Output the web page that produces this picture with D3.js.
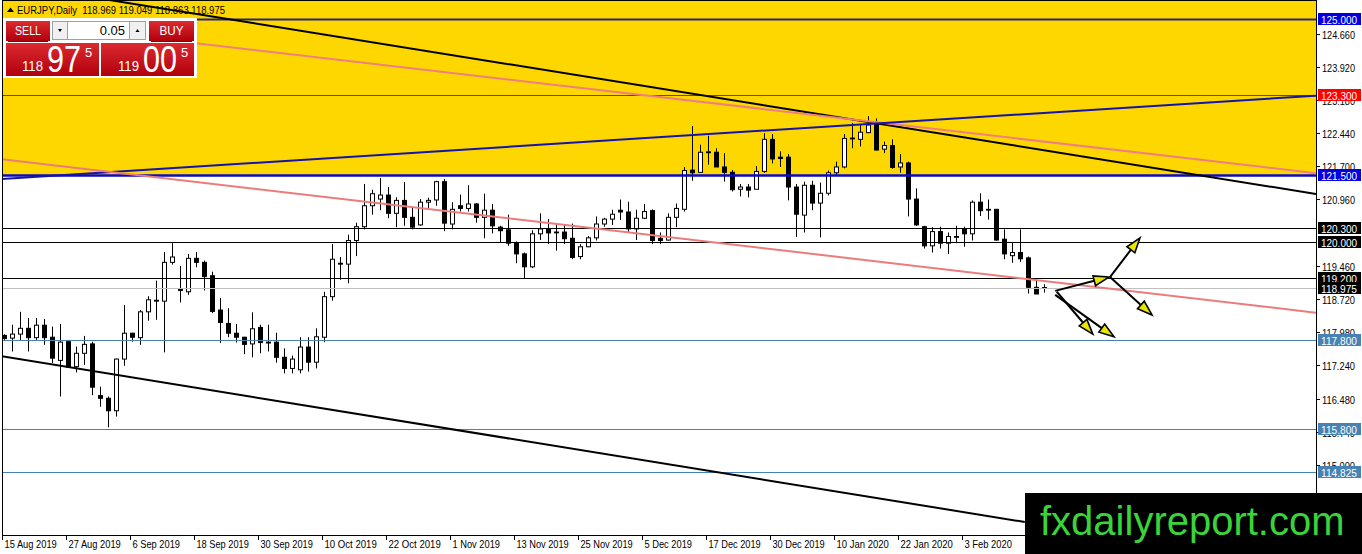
<!DOCTYPE html>
<html><head><meta charset="utf-8">
<script src="https://cdn.jsdelivr.net/npm/d3@7"></script>
<style>
html,body{margin:0;padding:0;background:#fff;overflow:hidden;}
svg{display:block;}
text{font-family:"Liberation Sans",Arial,sans-serif;}
</style></head><body>
<svg id="c" width="1362" height="554"></svg>
<script>
// ---------------- DATA ----------------
const symbolTitle = "EURJPY,Daily";
const lastQuote = ["118.969", "119.049", "118.863", "118.975"];

const openP = [117.90,117.84,117.93,118.06,117.85,118.13,117.86,117.34,117.76,117.20,
117.50,117.71,116.55,116.49,116.21,117.37,117.95,117.85,118.43,118.69,
118.67,119.54,118.93,118.88,119.63,119.54,119.24,118.47,118.17,117.95,
117.86,117.71,118.08,117.75,117.75,117.41,117.16,117.13,117.64,117.30,
117.86,118.77,119.52,119.50,120.03,120.34,120.81,120.96,121.05,120.64,
120.93,120.55,120.38,120.89,120.94,121.35,120.40,120.81,120.75,120.85,
120.55,120.71,120.33,120.27,119.98,119.73,119.44,120.18,120.29,120.22,
120.22,120.08,119.67,119.89,120.09,120.40,120.51,120.71,120.67,120.29,
120.53,120.70,120.08,120.04,120.55,120.73,121.61,121.56,122.00,122.01,
121.68,121.56,121.18,121.23,121.18,121.58,122.30,121.90,121.90,121.23,
120.60,121.27,120.87,121.09,121.55,121.68,122.33,122.30,122.45,122.66,
122.08,122.16,121.68,121.77,120.96,120.34,119.91,120.23,119.97,120.11,
120.29,120.18,120.89,120.73,120.73,120.06,119.69,119.76,119.64,118.98,118.969];
const highP = [117.93,118.14,118.43,118.29,118.29,118.27,118.10,118.16,117.80,117.65,
117.89,117.76,116.75,116.53,117.38,118.58,117.96,118.47,118.78,119.13,
119.77,119.97,119.46,119.73,119.77,119.58,119.33,118.74,118.51,118.16,
117.87,118.42,118.14,118.14,117.96,117.61,117.45,117.86,117.86,118.06,
118.88,119.95,119.66,120.16,120.43,121.30,121.17,121.43,121.23,121.00,
121.34,120.78,120.96,120.99,121.37,121.41,120.89,121.06,121.27,120.87,
121.08,120.85,120.36,120.61,120.01,119.76,120.26,120.64,120.51,120.38,
120.38,120.41,119.95,120.13,120.57,120.54,120.72,120.95,120.90,120.72,
120.85,120.73,120.21,120.64,120.86,121.68,122.60,122.18,122.38,122.10,
121.99,121.61,121.30,121.30,121.70,122.44,122.42,122.03,121.97,121.30,
121.35,121.37,121.33,121.60,121.80,122.42,122.67,122.62,122.82,122.77,
122.25,122.30,121.97,121.80,121.20,120.36,120.33,120.34,120.21,120.36,
120.34,120.93,121.09,120.95,120.73,120.28,119.98,120.28,119.67,119.13,119.049];
const lowP = [117.80,117.54,117.80,117.54,117.80,117.69,117.28,116.53,117.17,117.07,
117.24,116.56,116.30,115.84,116.08,117.22,117.76,117.69,118.23,118.25,
117.52,119.49,118.64,118.81,119.43,118.91,118.40,117.73,117.86,117.74,
117.48,117.41,117.50,117.54,117.29,117.05,117.05,117.05,117.09,117.16,
117.75,118.68,119.15,119.07,119.68,120.28,120.61,120.71,120.53,120.33,
120.36,120.28,120.36,120.75,120.81,120.24,120.28,120.68,120.68,120.43,
120.08,120.19,119.98,119.91,119.52,119.18,119.41,120.04,119.95,119.80,
119.95,119.61,119.61,119.88,120.03,120.34,120.38,120.49,120.20,120.04,
120.51,119.95,119.95,120.03,120.33,120.68,121.37,121.55,121.73,121.68,
121.35,121.13,121.02,121.00,121.18,121.55,121.76,121.68,120.93,120.11,
120.21,120.71,120.10,121.04,121.50,121.65,122.10,122.14,122.44,122.05,
121.99,121.64,121.55,120.57,120.36,119.85,119.76,119.85,119.73,119.97,
119.89,120.03,120.58,120.50,120.03,119.61,119.53,119.55,118.84,118.83,118.863];
const closeP = [117.83,117.93,118.06,117.85,118.13,117.85,117.39,117.75,117.19,117.50,
117.70,116.74,116.49,116.21,117.37,117.95,117.86,118.43,118.70,118.67,
119.54,119.66,118.91,119.63,119.54,119.22,118.44,118.19,117.95,117.86,
117.70,118.05,117.74,117.73,117.41,117.16,117.37,117.64,117.30,117.87,
118.77,119.61,119.50,120.03,120.34,120.81,121.08,121.05,120.64,120.93,
120.55,120.33,120.89,120.93,121.35,120.42,120.73,120.75,120.85,120.55,
120.71,120.36,120.25,119.97,119.73,119.44,120.18,120.29,120.20,120.21,
120.07,119.65,119.89,120.09,120.40,120.51,120.62,120.67,120.29,120.53,
120.68,120.03,120.03,120.55,120.75,121.60,121.55,122.01,122.02,121.68,
121.56,121.17,121.23,121.16,121.58,122.30,121.86,121.87,121.23,120.62,
121.27,120.87,121.09,121.55,121.68,122.32,122.31,122.46,122.62,122.06,
122.16,121.67,121.77,120.96,120.38,119.91,120.23,119.97,120.12,120.12,
120.18,120.89,120.70,120.72,120.04,119.73,119.76,119.62,118.98,118.83,118.975];

const dateLabels = ["15 Aug 2019","27 Aug 2019","6 Sep 2019","18 Sep 2019","30 Sep 2019",
"10 Oct 2019","22 Oct 2019","1 Nov 2019","13 Nov 2019","25 Nov 2019","5 Dec 2019",
"17 Dec 2019","30 Dec 2019","10 Jan 2020","22 Jan 2020","3 Feb 2020"];
const dateLabelBars = [0,8,16,24,32,40,48,56,64,72,80,88,96,104,112,120];

// visible price-scale labels (others are hidden under level tags / watermark)
const priceTicks = ["124.660","123.920","123.180","122.440","121.700","120.960",
"119.460","118.720","117.980","117.240","116.480","115.740","115.000"];

const levelPrices = [125.000, 123.300, 121.500, 120.300, 120.000, 119.200, 118.975, 117.800, 115.800, 114.825];
const levelKinds  = ["navy","red","blue","black","black","black","bid","steel","steel","steel"];

const zoneTop = 125.6, zoneBottom = 121.5;

const trendKinds = ["blackUp","pinkUp","blueRise","pinkLow","blackLow"];
const trendFrom = [[16.25,125.337],[23.75,124.462],[-0.5,121.410],[-0.5,121.859],[-0.5,117.439]];
const trendTo   = [[163.25,121.096],[163.25,121.556],[163.25,123.272],[163.25,118.426],[127.6,113.714]];

const arrowFrom = [[131.4,118.90],[138.25,119.21],[138.25,119.21],[131.6,118.88],[131.4,118.81]];
const arrowTo   = [[138.1,119.21],[142.0,120.09],[143.5,118.36],[136.1,117.93],[138.75,117.87]];

// ---------------- CHART ----------------
const svg = d3.select("#c");
const W = 1362, H = 554, plotL = 2, plotR = 1316, plotT = 0, plotB = 535;
const x = d3.scaleLinear().domain([0,130]).range([4,1044]);
const y = d3.scaleLinear().domain([125,115]).range([19,19+445.7]);

const defs = svg.append("defs");
defs.append("clipPath").attr("id","plotClip").append("rect")
  .attr("x",plotL).attr("y",plotT).attr("width",plotR-plotL).attr("height",plotB-plotT);
const g1 = defs.append("linearGradient").attr("id","redG").attr("x1",0).attr("y1",0).attr("x2",0).attr("y2",1);
g1.append("stop").attr("offset","0%").attr("stop-color","#dc2a30");
g1.append("stop").attr("offset","100%").attr("stop-color","#b0000c");

svg.append("rect").attr("width",W).attr("height",H).attr("fill","#fff");
const plot = svg.append("g").attr("clip-path","url(#plotClip)");

plot.append("rect").attr("x",plotL).attr("width",plotR-plotL)
  .attr("y",y(zoneTop)).attr("height",y(zoneBottom)-y(zoneTop)).attr("fill","#ffd700");

const bars = openP.map((o,i)=>({i,o,h:highP[i],l:lowP[i],c:closeP[i]}));
const cg = plot.append("g");
cg.selectAll("line.w").data(bars).enter().append("line")
  .attr("x1",d=>Math.round(x(d.i))+0.5).attr("x2",d=>Math.round(x(d.i))+0.5)
  .attr("y1",d=>y(d.h)).attr("y2",d=>y(d.l)).attr("stroke","#000").attr("stroke-width",1);
cg.selectAll("rect.b").data(bars).enter().append("rect")
  .attr("x",d=>Math.round(x(d.i))-1.5).attr("width",4)
  .attr("y",d=>y(Math.max(d.o,d.c)))
  .attr("height",d=>Math.max(0.8,Math.abs(y(d.o)-y(d.c))))
  .attr("fill",d=>d.c>=d.o?"#fff":"#000").attr("stroke","#000").attr("stroke-width",1);

const lvlStyle = {
  navy:{c:"#26266e",w:2}, red:{c:"#e01010",w:1.2}, blue:{c:"#0a0ac8",w:2.5},
  black:{c:"#000",w:1}, bid:{c:"#c0c0c0",w:1}, steel:{c:"#4682b4",w:1}
};
levelPrices.forEach((p,k)=>{
  const s = lvlStyle[levelKinds[k]];
  plot.append("line").attr("x1",plotL).attr("x2",plotR)
    .attr("y1",Math.round(y(p))+0.5).attr("y2",Math.round(y(p))+0.5)
    .attr("stroke",s.c).attr("stroke-width",s.w);
});

const trStyle = {
  blackUp:{c:"#000",w:2}, pinkUp:{c:"#f08080",w:2}, blueRise:{c:"#1414a8",w:2},
  pinkLow:{c:"#ec7c7c",w:2}, blackLow:{c:"#000",w:2}
};
trendKinds.forEach((k,n)=>{
  const [i1,p1] = trendFrom[n], [i2,p2] = trendTo[n];
  const slope = (p2-p1)/(i2-i1);
  const iA = x.invert(plotL-2), iB = (k==="blackLow") ? i2 : x.invert(plotR);
  plot.append("line")
    .attr("x1",x(iA)).attr("y1",y(p1+(iA-i1)*slope))
    .attr("x2",x(iB)).attr("y2",y(p1+(iB-i1)*slope))
    .attr("stroke",trStyle[k].c).attr("stroke-width",trStyle[k].w);
});

arrowFrom.forEach((a,n)=>{
  const b = arrowTo[n];
  const x1=x(a[0]), y1=y(a[1]), x2=x(b[0]), y2=y(b[1]);
  const ang = Math.atan2(y2-y1,x2-x1), L=15, Wd=5;
  plot.append("line").attr("x1",x1).attr("y1",y1).attr("x2",x2-Math.cos(ang)*L*0.6).attr("y2",y2-Math.sin(ang)*L*0.6)
    .attr("stroke","#000").attr("stroke-width",2);
  const bx = x2-Math.cos(ang)*L, by = y2-Math.sin(ang)*L;
  const pts = [[x2,y2],[bx+Math.sin(ang)*Wd,by-Math.cos(ang)*Wd],[bx-Math.sin(ang)*Wd,by+Math.cos(ang)*Wd]];
  plot.append("polygon").attr("points",pts.map(p=>p.join(",")).join(" "))
    .attr("fill","#e6e600").attr("stroke","#000").attr("stroke-width",1.6).attr("stroke-linejoin","miter");
});

svg.append("line").attr("x1",plotL).attr("x2",plotR).attr("y1",0.5).attr("y2",0.5).attr("stroke","#000");
svg.append("line").attr("x1",plotL+0.5).attr("x2",plotL+0.5).attr("y1",0).attr("y2",plotB).attr("stroke","#000");
svg.append("line").attr("x1",plotL).attr("x2",plotR).attr("y1",plotB+0.5).attr("y2",plotB+0.5).attr("stroke","#000");
svg.append("line").attr("x1",plotR+0.5).attr("x2",plotR+0.5).attr("y1",0).attr("y2",H).attr("stroke","#000");

// right price axis
const ax = svg.append("g");
priceTicks.forEach(t=>{
  const yy = Math.round(y(+t))+0.5;
  ax.append("line").attr("x1",plotR).attr("x2",plotR+4).attr("y1",yy).attr("y2",yy).attr("stroke","#000");
  ax.append("text").attr("x",plotR+6).attr("y",yy+4).attr("font-size",11).attr("fill","#000")
    .attr("textLength",33).attr("lengthAdjust","spacingAndGlyphs").text(t);
});
const lblBg = {navy:"#0000e0",red:"#ff0000",blue:"#0000e0",black:"#000",bid:"#000",steel:"#4682b4"};
levelPrices.forEach((p,k)=>{
  const yy = Math.round(y(p));
  ax.append("rect").attr("x",plotR+2).attr("y",yy-6).attr("width",43).attr("height",12).attr("fill",lblBg[levelKinds[k]]);
  ax.append("text").attr("x",plotR+5).attr("y",yy+4.5).attr("font-size",11).attr("fill","#fff")
    .attr("textLength",36).attr("lengthAdjust","spacingAndGlyphs").text(p.toFixed(3));
});

// bottom time axis
dateLabels.forEach((t,k)=>{
  const xx = Math.round(x(dateLabelBars[k]))-1.5;
  svg.append("line").attr("x1",xx).attr("x2",xx).attr("y1",plotB).attr("y2",plotB+5).attr("stroke","#000");
  svg.append("text").attr("x",xx+2).attr("y",548).attr("font-size",11).attr("fill","#000")
    .attr("textLength",t.length*4.75).attr("lengthAdjust","spacingAndGlyphs").text(t);
});

// header
svg.append("path").attr("d","M7,12 L10.5,7.5 L14,12 Z").attr("fill","#000");
svg.append("text").attr("x",17).attr("y",14).attr("font-size",11).attr("fill","#000")
  .attr("textLength",208).attr("lengthAdjust","spacingAndGlyphs")
  .attr("xml:space","preserve").text(symbolTitle+"  "+lastQuote.join(" "));

// one-click trading panel
const pn = svg.append("g");
pn.append("rect").attr("x",3).attr("y",18).attr("width",194).attr("height",60).attr("fill","#fff");
pn.append("rect").attr("x",6).attr("y",21).attr("width",44).attr("height",20).attr("fill","url(#redG)");
pn.append("rect").attr("x",149).attr("y",21).attr("width",45).attr("height",20).attr("fill","url(#redG)");
pn.append("line").attr("x1",8).attr("x2",48).attr("y1",41.5).attr("y2",41.5).attr("stroke","#800");
pn.append("line").attr("x1",151).attr("x2",192).attr("y1",41.5).attr("y2",41.5).attr("stroke","#800");
pn.append("text").attr("x",28).attr("y",35).attr("text-anchor","middle").attr("font-size",13).attr("fill","#fff")
  .attr("textLength",26).attr("lengthAdjust","spacingAndGlyphs").text("SELL");
pn.append("text").attr("x",171.5).attr("y",35).attr("text-anchor","middle").attr("font-size",13).attr("fill","#fff")
  .attr("textLength",24).attr("lengthAdjust","spacingAndGlyphs").text("BUY");
pn.append("rect").attr("x",52.5).attr("y",21.5).attr("width",15).attr("height",18).attr("fill","#f0f0f0").attr("stroke","#a0a0a0");
pn.append("rect").attr("x",67.5).attr("y",21.5).attr("width",62).attr("height",18).attr("fill","#fff").attr("stroke","#a0a0a0");
pn.append("rect").attr("x",129.5).attr("y",21.5).attr("width",16).attr("height",18).attr("fill","#f0f0f0").attr("stroke","#a0a0a0");
pn.append("path").attr("d","M58,29 L62,29 L60,32 Z").attr("fill","#000");
pn.append("path").attr("d","M135.5,32 L139.5,32 L137.5,29 Z").attr("fill","#000");
pn.append("text").attr("x",125).attr("y",35).attr("text-anchor","end").attr("font-size",13).attr("fill","#000").text("0.05");
pn.append("rect").attr("x",6).attr("y",43).attr("width",93).attr("height",33).attr("fill","url(#redG)");
pn.append("rect").attr("x",101).attr("y",43).attr("width",93).attr("height",33).attr("fill","url(#redG)");
const bid = lastQuote[3], ask = "119.005";
function priceBox(x0, big3, pips, last){
  pn.append("text").attr("x",x0).attr("y",71).attr("font-size",14).attr("fill","#fff")
    .attr("textLength",21).attr("lengthAdjust","spacingAndGlyphs").text(big3);
  pn.append("text").attr("x",x0+25).attr("y",72).attr("font-size",36).attr("fill","#fff")
    .attr("textLength",34).attr("lengthAdjust","spacingAndGlyphs").text(pips);
  pn.append("text").attr("x",x0+63).attr("y",57).attr("font-size",13).attr("fill","#fff").text(last);
}
priceBox(22, bid.slice(0,3), bid.slice(4,6), bid.slice(6));
priceBox(118, ask.slice(0,3), ask.slice(4,6), ask.slice(6));

// watermark
svg.append("rect").attr("x",1025).attr("y",493).attr("width",W-1025).attr("height",H-493).attr("fill","#000");
svg.append("text").attr("x",1040).attr("y",535).attr("font-size",40)
  .attr("fill","#3ad43a").text("fxdailyreport.com");
</script>
</body></html>
